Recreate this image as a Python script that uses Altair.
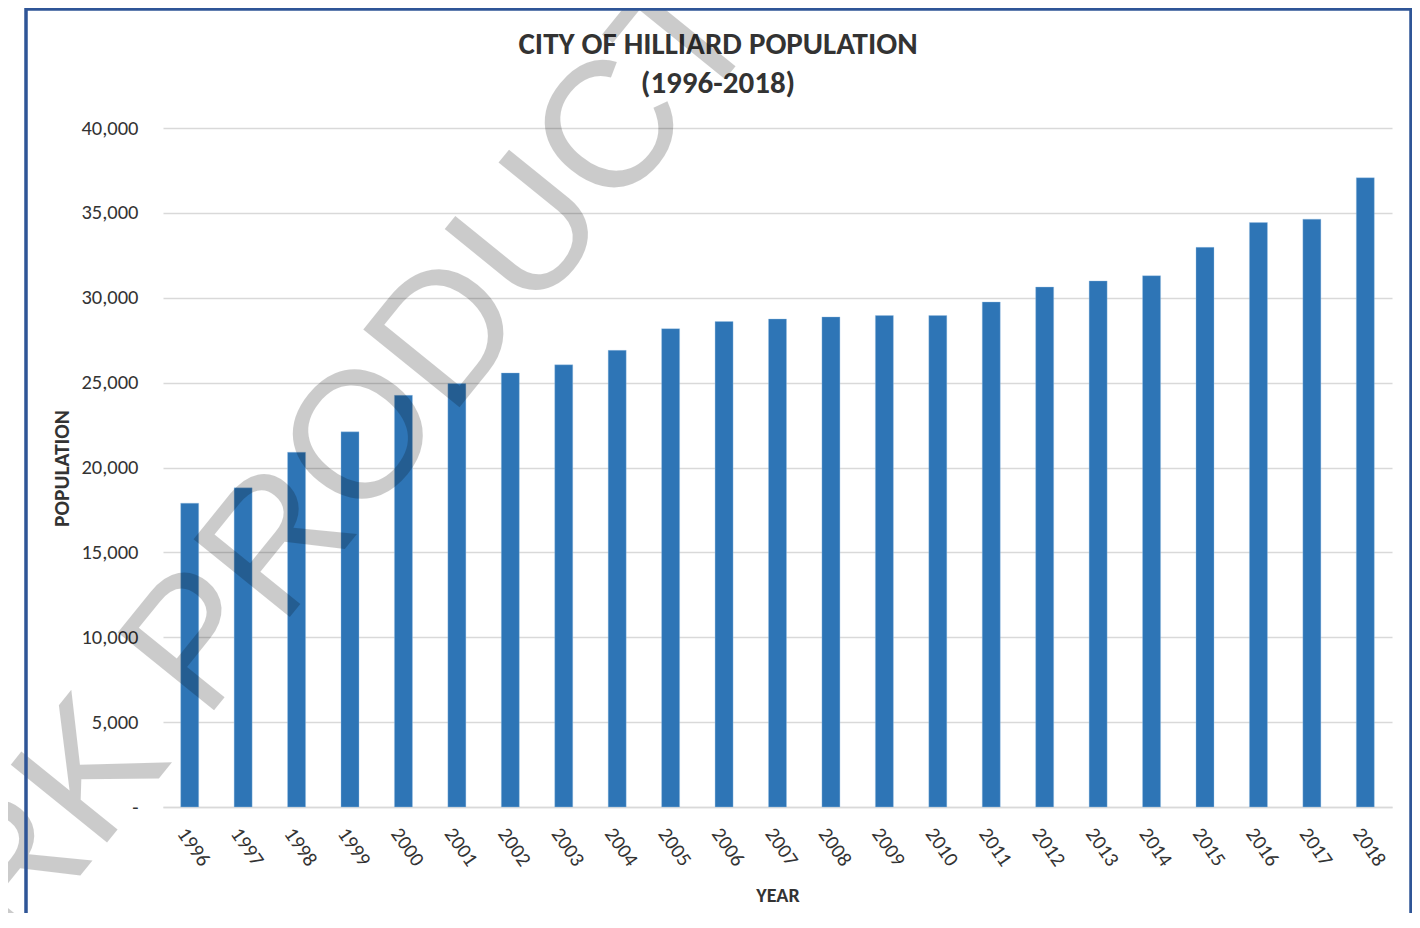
import altair as alt
import pandas as pd

years = [str(y) for y in range(1996, 2019)]
population = [17900, 18800, 20900, 22100, 24250, 24950, 25570, 26050, 26900,
              28180, 28600, 28750, 28870, 28950, 28950, 29750, 30630, 30990,
              31300, 32970, 34430, 34630, 37070]
title_lines = ["CITY OF HILLIARD POPULATION", "(1996-2018)"]
watermark = ["WORK PRODUCT"]

FONT = "Carlito, Calibri, sans-serif"
TXT = "#333333"

df = pd.DataFrame({"year": years, "population": population})

PW, PH = 1229, 679

bars = alt.Chart(df).mark_bar(color="#2E75B6", stroke="#9DC3E6", strokeWidth=0.6, strokeOpacity=0.6).encode(
    x=alt.X("year:N", sort=years,
            scale=alt.Scale(paddingInner=0.663, paddingOuter=0.331),
            axis=alt.Axis(title="YEAR", labelAngle=55, labelAlign="left", labelBaseline="top",
                          labelPadding=17, ticks=False, domainColor="#d9d9d9", domainWidth=1.5,
                          labelFont=FONT, labelFontSize=20.5, labelColor=TXT,
                          titleFont=FONT, titleFontSize=20, titleFontWeight="bold", titleColor=TXT,
                          titleY=94, titleBaseline="alphabetic")),
    y=alt.Y("population:Q",
            scale=alt.Scale(domain=[0, 40000]),
            axis=alt.Axis(title="POPULATION", values=list(range(0, 40001, 5000)),
                          labelExpr="datum.value == 0 ? '-' : format(datum.value, ',')",
                          ticks=False, domain=False, grid=True, gridColor="#d9d9d9", gridWidth=1.5,
                          labelPadding=25, labelFont=FONT, labelFontSize=20.5, labelColor=TXT,
                          titleFont=FONT, titleFontSize=21.5, titleFontWeight="bold", titleColor=TXT,
                          titleAngle=270, titleX=-95, titleY=340, titleAlign="center",
                          titleBaseline="alphabetic")),
)

title1 = alt.Chart(pd.DataFrame({"t": [title_lines[0]]})).mark_text(
    font=FONT, fontSize=31, fontWeight="bold", color=TXT, align="center", baseline="alphabetic"
).encode(text="t:N", x=alt.value(555), y=alt.value(-74))

title2 = alt.Chart(pd.DataFrame({"t": [title_lines[1]]})).mark_text(
    font=FONT, fontSize=31, fontWeight="bold", color=TXT, align="center", baseline="alphabetic"
).encode(text="t:N", x=alt.value(555), y=alt.value(-35))

wm = alt.Chart(pd.DataFrame({"t": watermark})).mark_text(
    font="Liberation Sans, Arial, sans-serif", fontSize=180, angle=309,
    align="center", baseline="middle", color="#000000", opacity=0.2
).encode(text="t:N", x=alt.value(88), y=alt.value(451))

border = alt.Chart(pd.DataFrame({"b": [1]})).mark_rect(
    filled=False, stroke="#2F5597", strokeWidth=3.5
).encode(x=alt.value(-137), x2=alt.value(1248), y=alt.value(-119), y2=alt.value(1000))

chart = alt.layer(bars, title1, title2, wm, border).properties(
    width=PW, height=PH,
    autosize=alt.AutoSizeParams(type="none"),
    padding={"left": 155, "top": 120, "right": 20, "bottom": 106},
).configure_view(stroke=None)

chart.save("out.html", embed_options={"renderer": "svg", "actions": False})
